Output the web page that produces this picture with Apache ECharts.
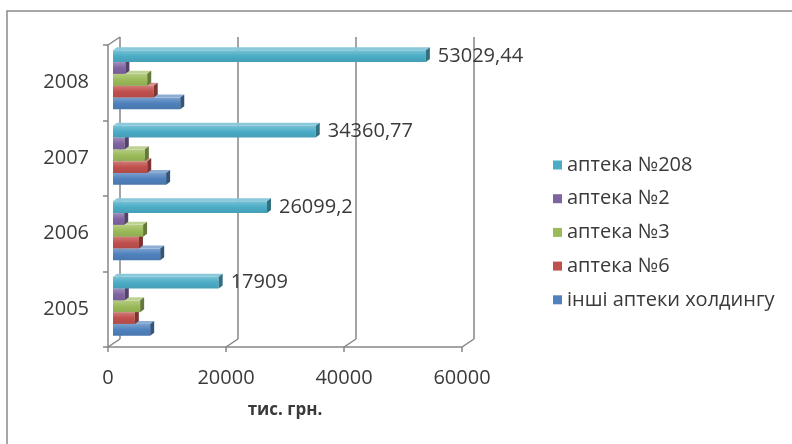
<!DOCTYPE html>
<html>
<head>
<meta charset="utf-8">
<script src="https://cdn.jsdelivr.net/npm/echarts@6/dist/echarts.min.js"></script>
<style>
  html, body { margin: 0; padding: 0; background: #fff; }
  #chart { width: 792px; height: 444px; }
</style>
</head>
<body>
<div id="chart"></div>
<script>
// роки (знизу вгору)
var years = ['2005', '2006', '2007', '2008'];
var xTicks = [0, 20000, 40000, 60000];

// тис. грн.
var inshi = [6300, 8000, 9000, 11400];
var apteka6 = [3700, 4400, 5800, 6900];
var apteka3 = [4600, 5100, 5400, 5800];
var apteka2 = [2000, 1900, 2000, 2100];
var apteka208 = [17909, 26099.2, 34360.77, 53029.44];
var labels208 = ['17909', '26099,2', '34360,77', '53029,44'];

var names = ['інші аптеки холдингу', 'аптека №6', 'аптека №3', 'аптека №2', 'аптека №208'];
var colors = ['#4F81BD', '#C0504D', '#9BBB59', '#8064A2', '#4BACC6'];
var values = [inshi, apteka6, apteka3, apteka2, apteka208];

var FONT = '"Open Sans", "Noto Sans", sans-serif';
var TXT = '#3a3a3a';
var LINE = '#868686';

// 3d зсув
var DX = 12, DY = -8;     // глибина стінки
var BX = 5, BY = -3;      // бари посередині
var BD = 4, BD2 = 3;      // товщина бару

function shade(hex, k) {
  var n = parseInt(hex.slice(1), 16);
  var r = (n >> 16) & 255, g = (n >> 8) & 255, b = n & 255;
  function f(c) { return Math.max(0, Math.min(255, Math.round(k > 0 ? c + (255 - c) * k : c * (1 + k)))); }
  return 'rgb(' + f(r) + ',' + f(g) + ',' + f(b) + ')';
}

function renderBar(params, api) {
  var v = api.value(0), c = api.value(1);
  var base = api.coord([0, c]);
  var end = api.coord([v, c]);
  var band = api.size([0, 1])[1];
  var h = band * 0.156;
  var idx = params.seriesIndex;
  var y = base[1] + h * 5 / 2 - (idx + 1) * h + BY;
  var x0 = base[0] + BX, x1 = end[0] + BX;
  var col = colors[idx];
  var children = [
    {
      type: 'rect',
      shape: { x: x0, y: y, width: x1 - x0, height: h },
      style: {
        fill: new echarts.graphic.LinearGradient(0, 0, 0, 1, [
          { offset: 0, color: shade(col, 0.25) },
          { offset: 0.5, color: col },
          { offset: 1, color: shade(col, -0.08) }
        ])
      }
    },
    {
      type: 'polygon',
      shape: { points: [[x0, y], [x0 + BD, y - BD2], [x1 + BD, y - BD2], [x1, y]] },
      style: { fill: shade(col, 0.35) }
    },
    {
      type: 'polygon',
      shape: { points: [[x1, y], [x1 + BD, y - BD2], [x1 + BD, y + h - BD2], [x1, y + h]] },
      style: { fill: shade(col, -0.35) }
    }
  ];
  if (idx === 4) {
    children.push({
      type: 'text',
      style: {
        x: x1 + BD + 8, y: y + h / 2,
        text: labels208[params.dataIndex],
        fill: TXT, font: '20px ' + FONT,
        verticalAlign: 'middle', align: 'left'
      }
    });
  }
  return { type: 'group', children: children };
}

function renderFloor(params, api) {
  var cs = params.coordSys;
  var bottom = cs.y + cs.height;
  var p = api.coord([api.value(0), 0]);
  var lines = [{
    type: 'line',
    shape: { x1: p[0], y1: bottom, x2: p[0] + DX, y2: bottom + DY },
    style: { stroke: LINE, lineWidth: 1.5 }
  }];
  if (params.dataIndex === 0) {
    lines.push({
      type: 'line',
      shape: { x1: p[0], y1: cs.y, x2: p[0] + DX, y2: cs.y + DY },
      style: { stroke: LINE, lineWidth: 1.5 }
    });
  }
  return { type: 'group', children: lines };
}

var series = [];
for (var i = 0; i < 5; i++) {
  series.push({
    name: names[i],
    type: 'custom',
    xAxisIndex: 0, yAxisIndex: 0,
    renderItem: renderBar,
    itemStyle: { color: colors[i] },
    data: values[i].map(function (v, j) { return [v, j]; }),
    z: 5
  });
}
series.push({
  type: 'custom',
  xAxisIndex: 0, yAxisIndex: 0,
  renderItem: renderFloor,
  data: xTicks.map(function (t) { return [t]; }),
  silent: true,
  z: 1
});

var chart = echarts.init(document.getElementById('chart'));
chart.setOption({
  animation: false,
  backgroundColor: '#fff',
  graphic: [{
    type: 'rect', z: -1,
    shape: { x: 7, y: 11, width: 800, height: 450 },
    style: { fill: 'none', stroke: '#8a8a8a', lineWidth: 1.5 }
  }],
  legend: {
    orient: 'vertical',
    left: 548, top: 150,
    itemWidth: 9, itemHeight: 9, itemGap: 13.7,
    icon: 'rect',
    data: ['аптека №208', 'аптека №2', 'аптека №3', 'аптека №6', 'інші аптеки холдингу'],
    textStyle: { fontFamily: FONT, fontSize: 20, color: TXT, lineHeight: 20, padding: [0, 0, 0, 0] }
  },
  grid: [
    { left: 108, right: 330, top: 45, bottom: 97 },
    { left: 108 + DX, right: 330 - DX, top: 45 + DY, bottom: 97 - DY }
  ],
  xAxis: [{
    type: 'value', gridIndex: 0,
    min: 0, max: 60000, interval: 20000,
    name: 'тис. грн.', nameLocation: 'middle', nameGap: 55,
    nameTextStyle: { fontFamily: FONT, fontSize: 17, fontWeight: 'bold', color: TXT },
    axisLine: { show: true, lineStyle: { color: LINE, width: 1.5 } },
    axisTick: { show: true, length: 5, lineStyle: { color: LINE, width: 1.5 } },
    axisLabel: { margin: 21, fontFamily: FONT, fontSize: 20, color: TXT, formatter: function (v) { return String(v); } },
    splitLine: { show: false }
  }, {
    type: 'value', gridIndex: 1,
    min: 0, max: 60000, interval: 20000,
    axisLine: { show: false }, axisTick: { show: false }, axisLabel: { show: false },
    splitLine: { show: true, lineStyle: { color: LINE, width: 1.5 } }
  }],
  yAxis: [{
    type: 'category', gridIndex: 0,
    data: years,
    axisLine: { show: true, lineStyle: { color: LINE, width: 1.5 } },
    axisTick: { show: true, length: 5, lineStyle: { color: LINE, width: 1.5 } },
    axisLabel: { margin: 19, fontFamily: FONT, fontSize: 20, color: TXT }
  }, {
    type: 'category', gridIndex: 1,
    data: years, show: false
  }],
  series: series
});
</script>
</body>
</html>
